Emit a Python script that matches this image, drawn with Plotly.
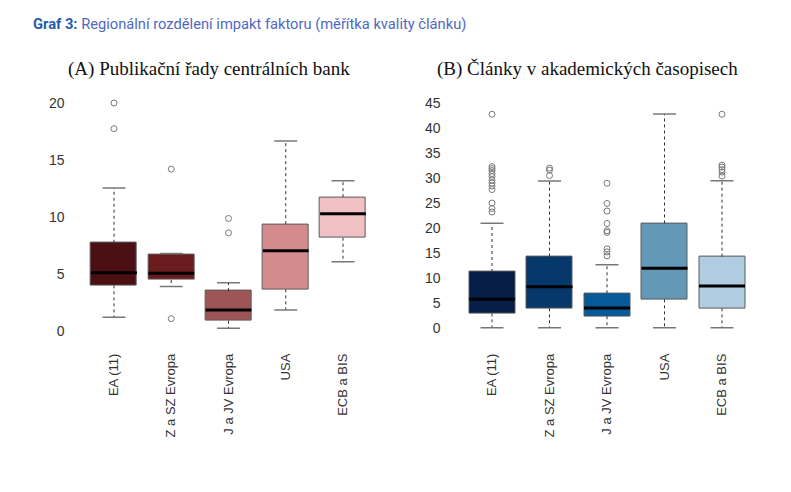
import plotly.graph_objects as go

categories = ["EA (11)", "Z a SZ Evropa", "J a JV Evropa", "USA", "ECB a BIS"]

# Panel A: Publikační řady centrálních bank
a_lower = [1.2, 3.9, 0.23, 1.84, 6.07]
a_q1 = [4.0, 4.47, 0.9, 3.65, 8.18]
a_median = [5.11, 5.07, 1.84, 7.04, 10.28]
a_q3 = [7.74, 6.67, 3.5, 9.37, 11.74]
a_upper = [12.55, 6.8, 4.23, 16.67, 13.17]
a_outliers = [[20.0, 17.75], [14.2, 1.08], [9.87, 8.61], [], []]
a_colors = ["#4b0f14", "#6a1b1e", "#9e5556", "#d48b8d", "#f0c0c2"]

# Panel B: Články v akademických časopisech
b_lower = [0, 0, 0, 0, 0]
b_q1 = [2.87, 3.88, 2.3, 5.68, 3.88]
b_median = [5.68, 8.22, 3.95, 11.9, 8.36]
b_q3 = [11.16, 14.24, 6.9, 20.9, 14.24]
b_upper = [20.95, 29.4, 12.6, 42.85, 29.45]
b_outliers = [
    [42.8, 32.3, 31.9, 31.5, 30.9, 30.3, 29.6, 29.0, 28.4, 27.7, 25.0, 23.9, 23.2],
    [32.0, 31.6, 30.5],
    [28.96, 24.9, 23.4, 20.9, 19.45, 19.1, 15.8, 15.2, 14.4],
    [],
    [42.8, 32.6, 32.2, 31.7, 31.2, 30.4],
]
b_colors = ["#051d47", "#07386b", "#065a99", "#6398b6", "#b0cce0"]

fig = go.Figure()


def add_panel(xa, ya, lower, q1, med, q3, upper, outliers, colors):
    idx = list(range(len(categories)))
    fig.add_trace(go.Bar(
        x=idx, y=[h - l for h, l in zip(q3, q1)], base=q1, width=0.8,
        marker=dict(color=colors, line=dict(color="#5a5a5a", width=1)),
        xaxis=xa, yaxis=ya, showlegend=False, hoverinfo="skip"))
    # whiskers
    wx, wy = [], []
    for i in idx:
        wx += [i, i, None, i, i, None]
        wy += [q3[i], upper[i], None, q1[i], lower[i], None]
    fig.add_trace(go.Scatter(x=wx, y=wy, mode="lines",
                             line=dict(color="#333333", width=1, dash="3px,3px"),
                             xaxis=xa, yaxis=ya, showlegend=False, hoverinfo="skip"))
    # caps
    cx, cy = [], []
    for i in idx:
        cx += [i - 0.2, i + 0.2, None, i - 0.2, i + 0.2, None]
        cy += [upper[i], upper[i], None, lower[i], lower[i], None]
    fig.add_trace(go.Scatter(x=cx, y=cy, mode="lines",
                             line=dict(color="#777777", width=1.5),
                             xaxis=xa, yaxis=ya, showlegend=False, hoverinfo="skip"))
    # medians
    mx, my = [], []
    for i in idx:
        mx += [i - 0.4, i + 0.4, None]
        my += [med[i], med[i], None]
    fig.add_trace(go.Scatter(x=mx, y=my, mode="lines",
                             line=dict(color="#000000", width=3),
                             xaxis=xa, yaxis=ya, showlegend=False, hoverinfo="skip"))
    # outliers
    ox, oy = [], []
    for i in idx:
        for v in outliers[i]:
            ox.append(i)
            oy.append(v)
    fig.add_trace(go.Scatter(x=ox, y=oy, mode="markers",
                             marker=dict(symbol="circle-open", size=6,
                                         color="#7a7a7a", line=dict(width=1)),
                             xaxis=xa, yaxis=ya, showlegend=False, hoverinfo="skip"))


add_panel("x", "y", a_lower, a_q1, a_median, a_q3, a_upper, a_outliers, a_colors)
add_panel("x2", "y2", b_lower, b_q1, b_median, b_q3, b_upper, b_outliers, b_colors)

W, H = 791, 492
OFF = 8  # page body margin
tickfont = dict(family="Liberation Sans, Arial, sans-serif", size=14, color="#333333")
xtickfont = dict(family="Liberation Sans, Arial, sans-serif", size=13, color="#333333")

xcommon = dict(range=[-0.6, 4.6], tickmode="array", tickvals=list(range(5)),
               ticktext=categories, tickangle=-90, showgrid=False, zeroline=False,
               showline=False, ticks="", tickfont=xtickfont, ticklabelstandoff=10,
               fixedrange=True)
ydomain = [(H - (340.1 - OFF)) / H, (H - (91.6 - OFF)) / H]

fig.update_layout(
    width=W, height=H,
    margin=dict(l=0, r=0, t=0, b=0),
    paper_bgcolor="white", plot_bgcolor="white",
    bargap=0,
    xaxis=dict(domain=[(79.65 - OFF) / W, (377.35 - OFF) / W], anchor="y", **xcommon),
    xaxis2=dict(domain=[(457.5 - OFF) / W, (756.5 - OFF) / W], anchor="y2", **xcommon),
    yaxis=dict(domain=ydomain, anchor="x", range=[-0.8, 21], tickvals=[0, 5, 10, 15, 20],
               showgrid=False, zeroline=False, showline=False, ticks="",
               tickfont=tickfont, ticklabelstandoff=14),
    yaxis2=dict(domain=ydomain, anchor="x2", range=[-2.49, 47.34],
                tickvals=[0, 5, 10, 15, 20, 25, 30, 35, 40, 45],
                showgrid=False, zeroline=False, showline=False, ticks="",
                tickfont=tickfont, ticklabelstandoff=16),
    annotations=[
        dict(text="<span style='color:#1f5cb0'><b>Graf 3:</b></span>"
                  "<span style='color:#4f68c2'> Regionální rozdělení impakt faktoru (měřítka kvality článku)</span>",
             xref="paper", yref="paper", x=(31 - OFF) / W, y=(H - (24 - OFF)) / H,
             xanchor="left", yanchor="middle", showarrow=False,
             font=dict(family="Roboto, sans-serif", size=14.7)),
        dict(text="(A) Publikační řady centrálních bank",
             xref="paper", yref="paper", x=(209 - OFF) / W, y=(H - (69 - OFF)) / H,
             xanchor="center", yanchor="middle", showarrow=False,
             font=dict(family="Liberation Serif, Times New Roman, serif", size=19, color="#111111")),
        dict(text="(B) Články v akademických časopisech",
             xref="paper", yref="paper", x=(587.5 - OFF) / W, y=(H - (69 - OFF)) / H,
             xanchor="center", yanchor="middle", showarrow=False,
             font=dict(family="Liberation Serif, Times New Roman, serif", size=19, color="#111111")),
    ],
)

fig.write_html("out.html")
